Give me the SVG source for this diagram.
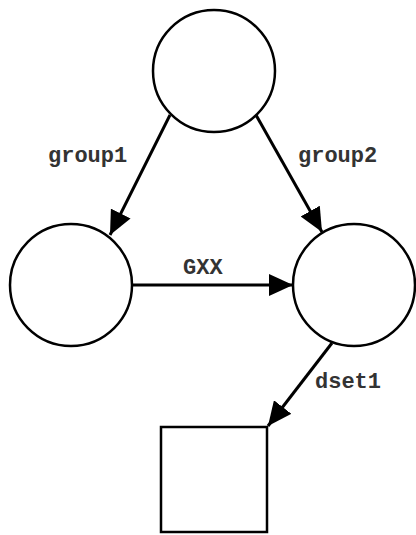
<svg xmlns="http://www.w3.org/2000/svg" width="416" height="535" viewBox="0 0 416 535">
<style>
.node{fill:#fff;stroke:#000;stroke-width:2.5}
.edge{stroke:#000;stroke-width:3;fill:none;marker-end:url(#ah)}
.lbl{font-family:"Liberation Mono","Courier New",monospace;font-size:22px;fill:#333;font-weight:bold}
</style>
<defs>
<marker id="ah" viewBox="0 0 24 22" markerWidth="24" markerHeight="22" refX="24" refY="11" orient="auto" markerUnits="userSpaceOnUse">
<path d="M0,0 L24,11 L0,22 z" fill="#000"/>
</marker>
</defs>
<rect width="416" height="535" fill="#fff"/>
<g id="connectors">
<line class="edge" x1="170" y1="115" x2="110" y2="235"/>
<line class="edge" x1="256" y1="115" x2="322" y2="232"/>
<line class="edge" x1="132" y1="285" x2="293" y2="285"/>
<line class="edge" x1="332" y1="343" x2="268" y2="426"/>
<text class="lbl" x="48" y="162">group1</text>
<text class="lbl" x="298" y="162">group2</text>
<text class="lbl" x="183" y="274">GXX</text>
<text class="lbl" x="315" y="388">dset1</text>
</g>
<g id="top"><circle class="node" cx="214" cy="71" r="61"/></g>
<g id="left"><circle class="node" cx="71" cy="285" r="61"/></g>
<g id="right"><circle class="node" cx="354" cy="285" r="61"/></g>
<g id="box"><rect class="node" x="161" y="427" width="106" height="105"/></g>
</svg>
